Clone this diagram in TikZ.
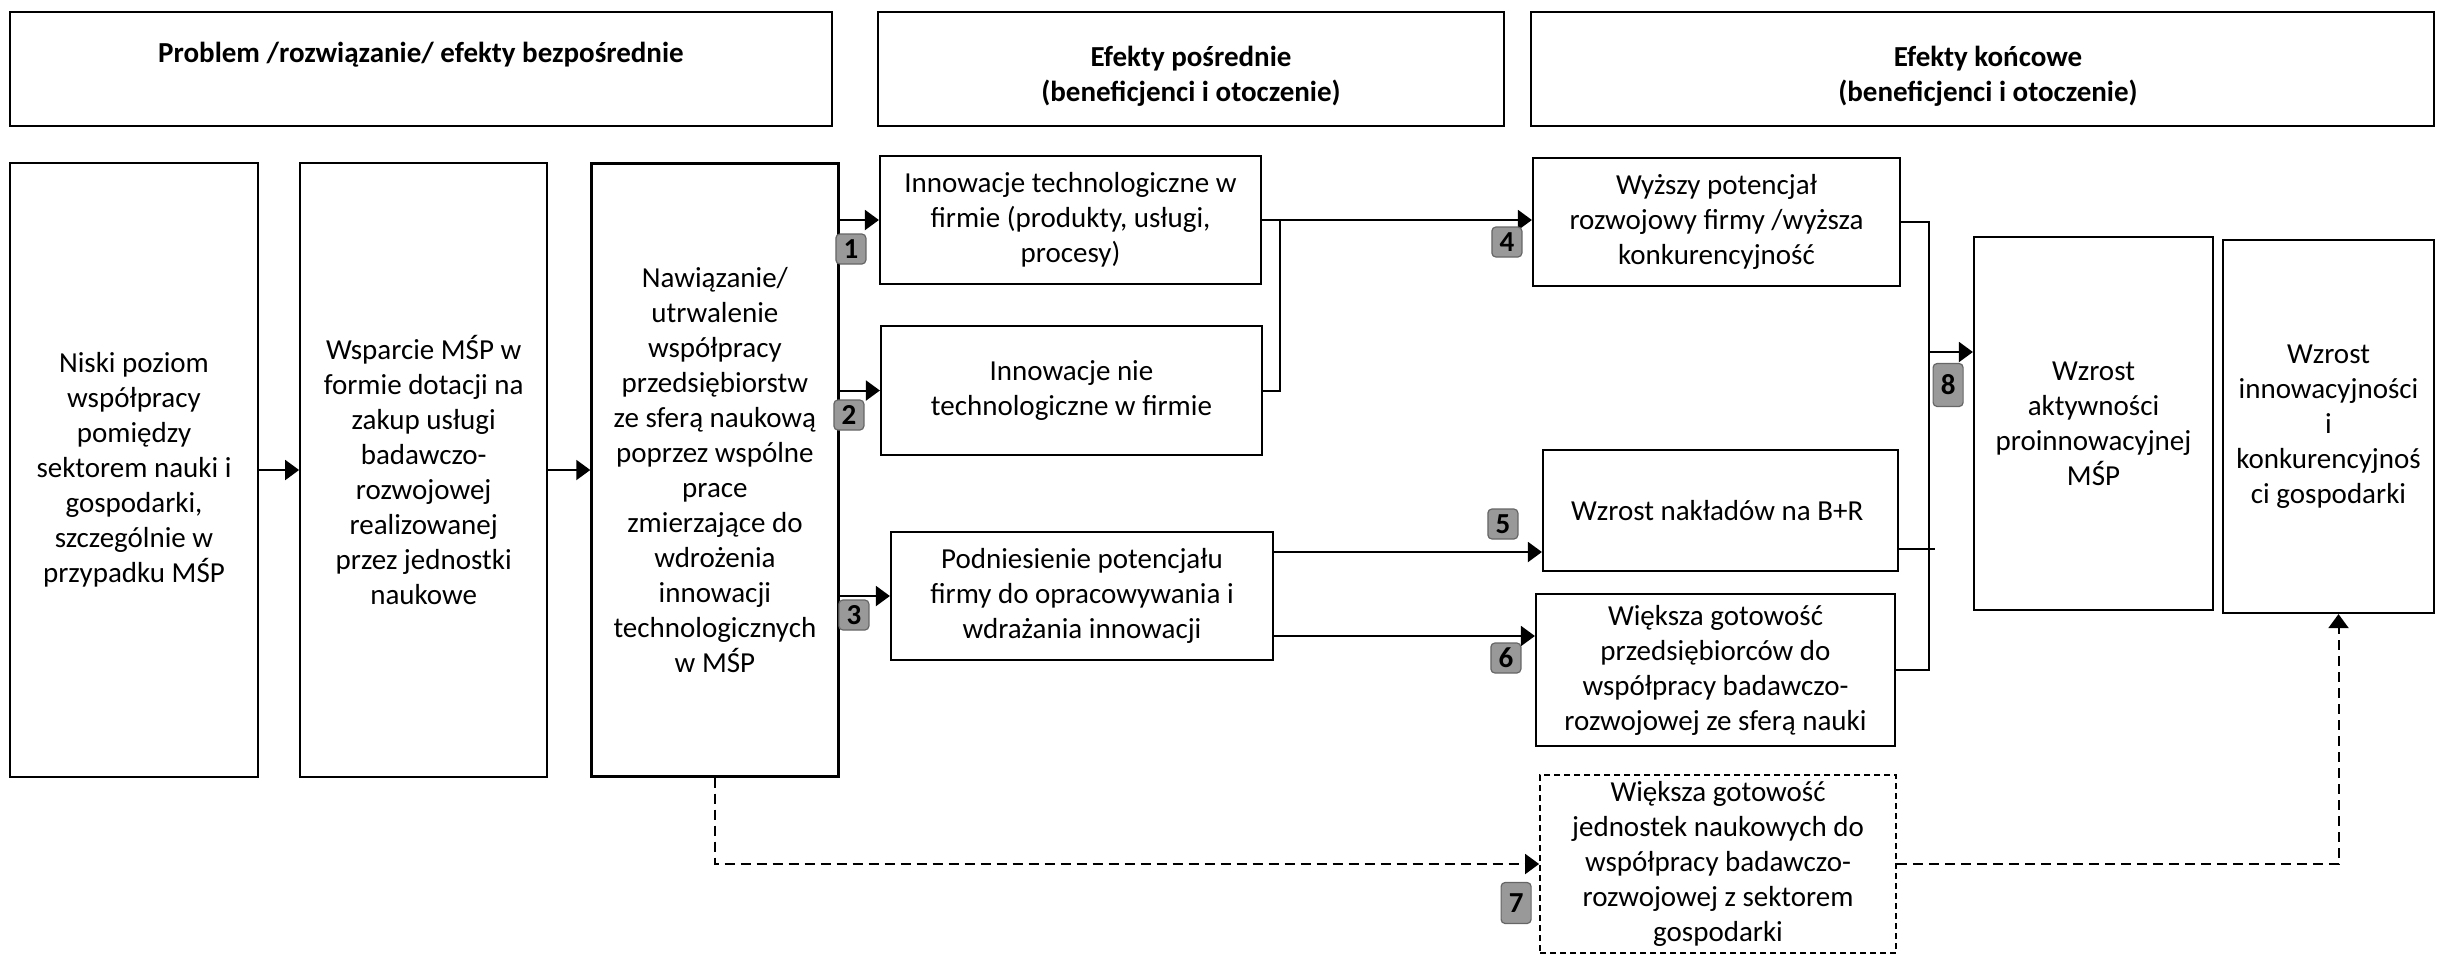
\documentclass[tikz,border=0pt]{standalone}
\usepackage{fontspec}
\setmainfont{Carlito}
\usetikzlibrary{arrows.meta,positioning,calc}

\begin{document}
\begin{tikzpicture}[
    x=0.5pt, y=-0.5pt,
    box/.style={rectangle, draw, line width=1.1pt, align=center, inner sep=2pt, font=\fontsize{14.5}{17.5}\selectfont},
    head/.style={box, minimum height=57pt},
    headtxt/.style={align=center, font=\fontsize{14.5}{17.5}\selectfont\bfseries},
    tag/.style={rectangle, draw=black!60, fill=black!40, rounded corners=2pt, line width=0.6pt, minimum width=15pt, minimum height=15pt, inner sep=0pt, font=\fontsize{14.5}{17.5}\selectfont\bfseries},
    arr/.style={-{Triangle[length=7pt, width=10pt]}, line width=1pt},
    dasharr/.style={arr, dash pattern=on 5pt off 3pt},
    link/.style={line width=1pt},
]
\useasboundingbox (0,0) rectangle (2443,955);

% Headers
\node[head, minimum width=411pt] (h1) at (421,69) {};
\node[headtxt] (h1t) at (421,55) {Problem /rozwiązanie/ efekty bezpośrednie};
\node[head, minimum width=313pt] (h2) at (1191,69) {};
\node[headtxt] (h2t) at (1191,76) {Efekty pośrednie\\(beneficjenci i otoczenie)};
\node[head, minimum width=451.5pt] (h3) at (1982.5,69) {};
\node[headtxt] (h3t) at (1988,76) {Efekty końcowe\\(beneficjenci i otoczenie)};

% Problem / solution / direct effects
\node[box, minimum width=124pt, minimum height=307pt] (problem) at (134,470) {
    Niski poziom\\współpracy\\pomiędzy\\sektorem nauki i\\gospodarki,\\szczególnie w\\przypadku MŚP
};
\node[box, minimum width=123.5pt, minimum height=307pt, right=20pt of problem] (support) {
    Wsparcie MŚP w\\formie dotacji na\\zakup usługi\\badawczo-\\rozwojowej\\realizowanej\\przez jednostki\\naukowe
};
\node[box, minimum width=123.5pt, minimum height=306.5pt, right=21pt of support] (coop) {
    Nawiązanie/\\utrwalenie\\współpracy\\przedsiębiorstw\\ze sferą naukową\\poprzez wspólne\\prace\\zmierzające do\\wdrożenia\\innowacji\\technologicznych\\w MŚP
};

% Intermediate effects
\node[box, minimum width=190.5pt, minimum height=64pt] (techinn) at (1070.5,220) {
    Innowacje technologiczne w\\firmie (produkty, usługi,\\procesy)
};
\node[box, minimum width=190.5pt, minimum height=64.5pt] (nontech) at (1071.5,390.5) {
    Innowacje nie\\technologiczne w firmie
};
\node[box, minimum width=191pt, minimum height=64pt] (potential) at (1082,596) {
    Podniesienie potencjału\\firmy do opracowywania i\\wdrażania innowacji
};

% Final effects
\node[box, minimum width=183.5pt, minimum height=64pt] (compet) at (1716.5,222) {
    Wyższy potencjał\\rozwojowy firmy /wyższa\\konkurencyjność
};
\node[box, minimum width=177.5pt, minimum height=60.5pt] (rnd) at (1720.5,510.5) {
    Wzrost nakładów na B+R
};
\node[box, minimum width=179.5pt, minimum height=76pt] (readyfirm) at (1715.5,670) {
    Większa gotowość\\przedsiębiorców do\\współpracy badawczo-\\rozwojowej ze sferą nauki
};
\node[box, line width=0.9pt, dash pattern=on 3pt off 2pt, minimum width=178pt, minimum height=89pt] (readysci) at (1718,864) {
    Większa gotowość\\jednostek naukowych do\\współpracy badawczo-\\rozwojowej z sektorem\\gospodarki
};
\node[box, minimum width=119.5pt, minimum height=186.5pt] (activity) at (2093.5,423.5) {
    Wzrost\\aktywności\\proinnowacyjnej\\MŚP
};
\node[box, minimum width=105.5pt, minimum height=186.5pt] (economy) at (2328.5,426.5) {
    Wzrost\\innowacyjności\\i\\konkurencyjnoś\\ci gospodarki
};

% Arrows along the chain
\draw[arr] (problem) -- (support);
\draw[arr] (support) -- (coop);
\draw[arr] (coop.east |- techinn.west) -- (techinn.west);
\draw[arr] (coop.east |- nontech.west) -- (nontech.west);
\draw[arr] (coop.east |- potential.west) -- (potential.west);

% Innovations -> competitiveness
\coordinate (merge) at ($(techinn.east)+(18,0)$);
\draw[arr] (techinn.east) -- (techinn.east -| compet.west);
\draw[link] (nontech.east) -| (merge);

% Potential -> R&D, readiness
\coordinate (p5) at ([yshift=22pt]potential.east);
\coordinate (p6) at ([yshift=-20pt]potential.east);
\draw[arr] (p5) -- (p5 -| rnd.west);
\draw[arr] (p6) -- (p6 -| readyfirm.west);

% Collector into activity box
\coordinate (gather) at ($(compet.east)+(28,130)$);
\draw[link] (compet.east) -| (gather);
\draw[link] (readyfirm.east) -| (gather);
\coordinate (s5) at ([yshift=-19pt]rnd.east);
\draw[link] (s5) -- (s5 -| gather) -- ++(3pt,0);
\draw[arr] (gather) -- (gather -| activity.west);

% Dashed path through science units
\coordinate (up) at ([xshift=5pt]economy.south);
\draw[dasharr] (coop.south) |- (readysci.west);
\draw[dasharr] (readysci.east) -| (up);

% Number tags
\node[tag] (t1) at ($(techinn.west)+(-28,29)$) {1};
\node[tag] (t2) at ($(nontech.west)+(-31,24.5)$) {2};
\node[tag] (t3) at ($(potential.west)+(-36,19)$) {3};
\node[tag] (t4) at ($(compet.west)+(-25,20)$) {4};
\node[tag] (t5) at ($(rnd.west)+(-39,13.5)$) {5};
\node[tag] (t6) at ($(readyfirm.west)+(-29,-12)$) {6};
\node[tag, minimum height=20.5pt] (t7) at ($(readysci.west)+(-23,39)$) {7};
\node[tag, minimum height=21.5pt] (t8) at ($(gather)+(19,33)$) {8};

\end{tikzpicture}
\end{document}
